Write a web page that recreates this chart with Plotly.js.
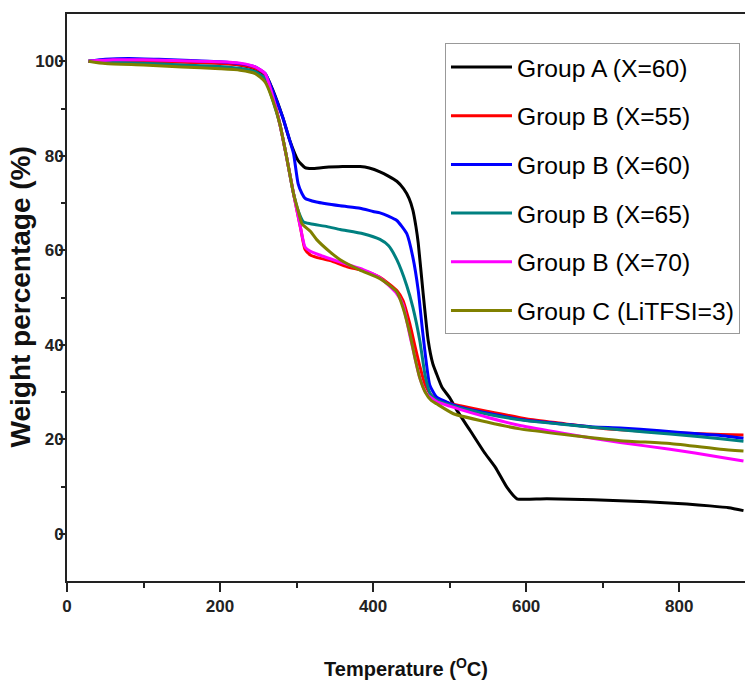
<!DOCTYPE html>
<html>
<head>
<meta charset="utf-8">
<script src="https://cdn.plot.ly/plotly-3.0.1.min.js"></script>
<style>html,body{margin:0;padding:0;background:#fff;}#chart{width:745px;height:684px;}</style>
</head>
<body>
<div id="chart"></div>
<script>
// Series names
const seriesNames = ["Group A (X=60)", "Group B (X=55)", "Group B (X=60)", "Group B (X=65)", "Group B (X=70)", "Group C (LiTFSI=3)"];
const seriesColors = ["#000000", "#ff0000", "#0000ff", "#008080", "#ff00ff", "#808000"];

// Group A (X=60)
const tempA = [28, 50, 100, 150, 200, 226, 245, 260, 269, 282, 291, 302, 311, 320, 335, 360, 383, 395, 409, 420, 431, 440, 447, 452, 456, 459, 465, 472, 478, 483, 490, 500, 510, 527, 545, 560, 575, 588, 600, 627, 688, 740, 775, 810, 840, 865, 884];
const weightA = [100, 100.1, 100.2, 100, 99.7, 99.2, 98.4, 97, 93.9, 88.1, 83.3, 79.0, 77.5, 77.3, 77.5, 77.7, 77.7, 77.4, 76.6, 75.7, 74.6, 73.0, 71.0, 68.5, 65.0, 61.5, 51.5, 40.9, 36.0, 33.8, 31.0, 28.8, 26.0, 21.8, 17.3, 14.0, 9.8, 7.4, 7.3, 7.4, 7.2, 6.9, 6.6, 6.3, 5.9, 5.5, 4.9];

// Group B (X=55)
const tempB55 = [28, 60, 100, 150, 200, 226, 246, 259, 269, 278, 287, 296, 305, 311, 318, 326, 344, 366, 387, 409, 431, 439, 448, 455, 461, 468, 476, 483, 500, 514, 550, 601, 650, 688, 723, 775, 820, 854, 884];
const weightB55 = [100, 100.1, 100, 99.8, 99.5, 99.2, 98.5, 97.2, 92.5, 86.8, 79.7, 72.0, 64.9, 60.2, 59.0, 58.5, 57.8, 56.5, 55.7, 54.3, 51.5, 49.4, 44.4, 39.5, 35.5, 31.5, 29.3, 28.5, 27.6, 27.1, 25.9, 24.3, 23.3, 22.5, 22.0, 21.5, 21.2, 21.0, 20.9];

// Group B (X=60)
const tempB60 = [28, 50, 80, 120, 170, 200, 226, 246, 259, 269, 282, 291, 296, 302, 307, 311, 326, 357, 383, 400, 409, 420, 431, 444, 452, 459, 465, 474, 483, 500, 514, 550, 600, 650, 688, 723, 775, 820, 854, 884];
const weightB60 = [100, 100.4, 100.6, 100.4, 100.1, 99.9, 99.5, 98.8, 97.4, 93.7, 88.1, 83.3, 80.5, 74.1, 72.0, 71.0, 70.2, 69.4, 68.9, 68.2, 67.9, 67.2, 66.3, 63.5, 58.5, 51.5, 42.4, 31.5, 28.9, 27.6, 26.8, 25.5, 24.0, 23.2, 22.6, 22.4, 21.8, 21.2, 20.8, 20.2];

// Group B (X=65)
const tempB65 = [28, 60, 100, 150, 200, 226, 246, 259, 269, 278, 287, 296, 302, 309, 318, 340, 357, 387, 409, 420, 431, 444, 452, 461, 468, 475, 483, 500, 514, 550, 592, 650, 723, 788, 854, 884];
const weightB65 = [100, 99.8, 99.6, 99.2, 98.9, 98.5, 97.8, 96.3, 91.7, 86.8, 79.7, 72.0, 68.4, 66.0, 65.6, 65.0, 64.4, 63.5, 62.3, 61.0, 58.0, 52.5, 47.9, 40.9, 33.5, 29.5, 28.3, 27.3, 26.6, 25.3, 24.1, 23.1, 22.0, 21.1, 20.1, 19.6];

// Group B (X=70)
const tempB70 = [28, 60, 100, 150, 200, 226, 246, 259, 269, 278, 287, 296, 305, 311, 318, 330, 344, 366, 387, 409, 431, 439, 448, 455, 461, 470, 483, 500, 520, 550, 592, 650, 723, 788, 854, 884];
const weightB70 = [100, 100.3, 100.3, 100.1, 99.9, 99.6, 98.8, 97.4, 92.5, 86.8, 79.7, 72.0, 64.9, 60.7, 59.8, 59.0, 58.2, 57.0, 55.9, 54.2, 50.8, 48.5, 42.0, 37.0, 33.0, 29.6, 28.0, 27.0, 26.0, 24.6, 22.9, 21.2, 19.3, 17.9, 16.2, 15.4];

// Group C (LiTFSI=3)
const tempC = [28, 50, 100, 150, 200, 226, 246, 259, 269, 278, 287, 296, 302, 307, 318, 326, 344, 357, 383, 409, 431, 439, 448, 455, 461, 468, 476, 483, 505, 550, 592, 650, 723, 788, 854, 884];
const weightC = [100, 99.5, 99.2, 98.8, 98.4, 98.1, 97.4, 95.6, 91.7, 86.8, 79.7, 72.0, 68.4, 65.6, 64.0, 62.3, 59.6, 58.0, 55.8, 54.0, 51.2, 47.9, 42.4, 37.0, 33.0, 30.0, 28.2, 27.5, 25.4, 23.6, 22.2, 21.0, 19.7, 19.1, 17.9, 17.5];

// Axis ticks and titles
const xTickVals = [0, 200, 400, 600, 800];
const yTickVals = [0, 20, 40, 60, 80, 100];
const xTitle = 'Temperature (<sup>O</sup>C)';
const yTitle = 'Weight percentage (%)';

const xs = [tempA, tempB55, tempB60, tempB65, tempB70, tempC];
const ys = [weightA, weightB55, weightB60, weightB65, weightB70, weightC];

const narrow = "'Liberation Sans Narrow', 'Liberation Sans', Arial, sans-serif";

const traces = seriesNames.map((name, i) => ({
  x: xs[i], y: ys[i], name: name, type: 'scatter', mode: 'lines',
  legendgroup: 'g' + i,
  line: {color: seriesColors[i], width: 3, shape: 'spline', smoothing: 0.5}
}));

const layout = {
  width: 745, height: 684,
  margin: {l: 67, r: 0, t: 14, b: 103},
  paper_bgcolor: '#ffffff', plot_bgcolor: '#ffffff',
  showlegend: true,
  legend: {
    x: 0.5575, y: 0.948, xanchor: 'left', yanchor: 'top',
    bgcolor: '#ffffff', bordercolor: '#999999', borderwidth: 1,
    font: {family: narrow, size: 25, color: '#000', stretch: 'condensed'},
    traceorder: 'grouped', tracegroupgap: 10, itemwidth: 61
  },
  xaxis: {
    range: [0, 886], tickvals: xTickVals, ticks: 'outside', ticklen: 9, tickwidth: 2, tickcolor: '#222',
    showline: true, linewidth: 2, linecolor: '#222', mirror: true, showgrid: false, zeroline: false,
    tickfont: {family: narrow, size: 17, color: '#222', weight: 'bold', stretch: 'condensed'},
    minor: {tickvals: [100, 300, 500, 700], ticks: 'outside', ticklen: 5, tickwidth: 2, tickcolor: '#222', showgrid: false},
    title: {text: xTitle, font: {family: narrow, size: 20, color: '#111', weight: 'bold', stretch: 'condensed'}, standoff: 47}
  },
  yaxis: {
    range: [-10, 110], tickvals: yTickVals, ticks: 'outside', ticklen: 6, tickwidth: 2, tickcolor: '#222',
    ticklabelstandoff: -8,
    showline: true, linewidth: 2, linecolor: '#222', mirror: false, showgrid: false, zeroline: false,
    tickfont: {family: narrow, size: 17, color: '#222', weight: 'bold', stretch: 'condensed'},
    minor: {tickvals: [10, 30, 50, 70, 90], ticks: 'outside', ticklen: 4, tickwidth: 2, tickcolor: '#222', showgrid: false}
  },
  annotations: [{
    text: yTitle, textangle: -90, xref: 'paper', yref: 'paper', x: 0, y: 0.5,
    xanchor: 'center', yanchor: 'middle', xshift: -47, showarrow: false,
    font: {family: "'Liberation Sans', Arial, sans-serif", size: 28, color: '#111', weight: 'bold'}
  }]
};

Plotly.newPlot('chart', traces, layout, {displayModeBar: false, staticPlot: true}).then(gd => {
  // fit legend text to the reference width of the longest entry
  const texts = Array.from(gd.querySelectorAll('.legendtext'));
  const maxW = Math.max(...texts.map(t => t.getComputedTextLength()));
  const s = Math.min(33, 25 * 217 / maxW);
  const gap = Math.max(0, 48.7 - (1.3 * s + 3));
  return Plotly.relayout(gd, {'legend.font.size': s, 'legend.tracegroupgap': gap});
});
</script>
</body>
</html>
